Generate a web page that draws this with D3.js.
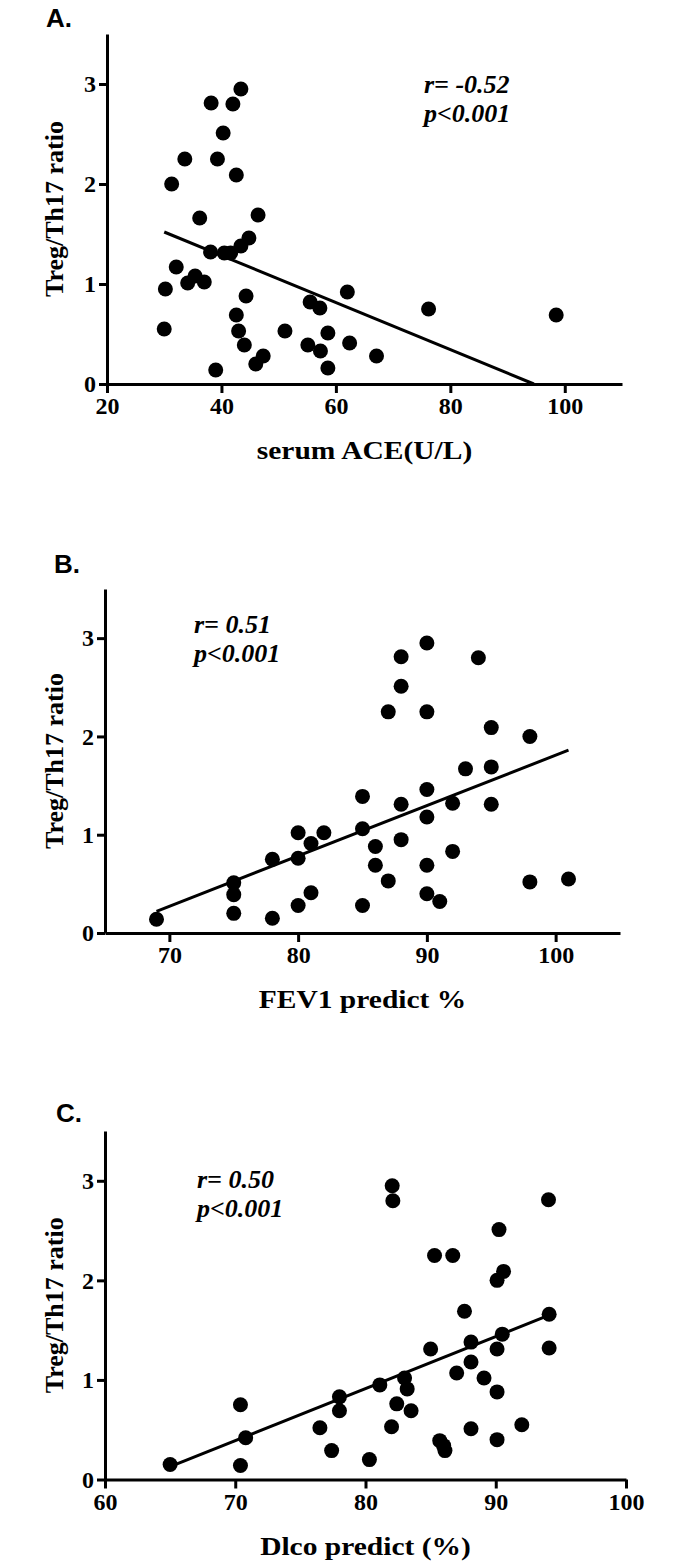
<!DOCTYPE html>
<html>
<head>
<meta charset="utf-8">
<script src="https://cdn.jsdelivr.net/npm/d3@7"></script>
<style>
  html, body { margin: 0; padding: 0; background: #fff; }
  svg { display: block; }
</style>
</head>
<body>
<svg id="chart" width="693" height="1566"></svg>
<script>
// ---------- DATA ----------
// Panel A: serum ACE (U/L) vs Treg/Th17 ratio
const aceX = [43.4, 38.2, 42.0, 40.3, 33.6, 39.3, 42.6, 31.3, 36.2, 46.4, 44.8, 43.4, 38.1, 40.5, 41.6, 32.1,
              30.2, 30.0, 34.1, 35.4, 37.0, 39.0, 44.3, 42.6, 43.0, 44.0, 46.0, 47.3, 51.1, 55.5, 57.2, 55.1,
              57.3, 58.6, 58.6, 62.0, 62.4, 67.1, 76.2, 98.5];
const aceY = [2.95, 2.81, 2.80, 2.51, 2.25, 2.25, 2.09, 2.00, 1.66, 1.69, 1.46, 1.38, 1.32, 1.31, 1.31, 1.17,
              0.95, 0.55, 1.01, 1.08, 1.02, 0.14, 0.88, 0.69, 0.53, 0.39, 0.20, 0.28, 0.53, 0.82, 0.76, 0.39,
              0.33, 0.51, 0.16, 0.92, 0.41, 0.28, 0.75, 0.69];
const aceFit = [[30, 1.52], [94.6, 0]];

// Panel B: FEV1 predict % vs Treg/Th17 ratio
const fevX = [69, 75, 75, 75, 78, 78, 80, 80, 80, 81, 81, 82, 85, 85, 85, 86, 86, 87, 88, 88,
              90, 90, 90, 90, 91, 92, 92, 93, 95, 95, 98, 101, 90, 88, 94, 88, 87, 90, 95, 98];
const fevY = [0.14, 0.51, 0.39, 0.20, 0.75, 0.15, 1.02, 0.76, 0.28, 0.91, 0.41, 1.02, 1.39, 1.06, 0.28, 0.88, 0.69, 0.53, 1.31, 0.95,
              1.46, 1.18, 0.69, 0.40, 0.32, 1.32, 0.83, 1.67, 1.69, 1.31, 0.52, 0.55, 2.95, 2.81, 2.80, 2.51, 2.25, 2.25, 2.09, 2.00];
const fevFit = [[69, 0.22], [101, 1.86]];

// Panel C: Dlco predict (%) vs Treg/Th17 ratio
const dlcoX = [65.0, 70.4, 70.8, 70.4, 76.5, 77.4, 78.0, 78.0, 80.3, 81.1, 82.0, 82.4, 83.0, 83.2, 83.5, 85.0,
               85.7, 86.0, 86.1, 87.0, 87.6, 88.1, 88.1, 88.1, 89.1, 90.1, 90.1, 90.1, 90.5, 92.0, 94.1, 94.1,
               82.05, 82.1, 94.05, 90.25, 85.3, 86.7, 90.6, 90.1];
const dlcoY = [0.15, 0.75, 0.42, 0.14, 0.52, 0.29, 0.83, 0.69, 0.20, 0.95, 0.53, 0.76, 1.02, 0.91, 0.69, 1.31,
               0.39, 0.34, 0.29, 1.07, 1.69, 1.38, 1.18, 0.51, 1.02, 1.31, 0.88, 0.40, 1.46, 0.55, 1.66, 1.32,
               2.95, 2.80, 2.81, 2.51, 2.25, 2.25, 2.09, 2.00];
const dlcoFit = [[65, 0.13], [94.1, 1.65]];

const yTicks = [0, 1, 2, 3];
const aceTicks = [20, 40, 60, 80, 100];
const fevTicks = [70, 80, 90, 100];
const dlcoTicks = [60, 70, 80, 90, 100];

const yTitle = "Treg/Th17 ratio";

// ---------- DRAW ----------
const svg = d3.select("#chart");
const serif = "'Liberation Serif', 'Times New Roman', serif";
const sans = "'Liberation Sans', Arial, sans-serif";

function panel(cfg) {
  const x = d3.scaleLinear().domain(cfg.xDomain).range(cfg.xRange);
  const y = d3.scaleLinear().domain([0, 3.5]).range(cfg.yRange);
  const g = svg.append("g");

  // panel letter
  g.append("text").attr("x", cfg.letterPos[0]).attr("y", cfg.letterPos[1])
    .style("font-family", sans).style("font-weight", "bold").style("font-size", "26px")
    .text(cfg.letter);

  // axes
  const yAxis = d3.axisLeft(y).tickValues(yTicks).tickSize(8).tickSizeOuter(0).tickPadding(3)
    .tickFormat(d3.format("d"));
  const xAxis = d3.axisBottom(x).tickValues(cfg.xTicks).tickSize(9).tickSizeOuter(0).tickPadding(4)
    .tickFormat(d3.format("d"));

  const ya = g.append("g").attr("transform", `translate(${cfg.xRange[0]},0)`).call(yAxis);
  const xa = g.append("g").attr("transform", `translate(0,${cfg.yRange[0]})`).call(xAxis);
  [ya, xa].forEach(a => {
    a.attr("font-family", null).attr("font-size", null);
    a.select(".domain").attr("stroke", "#000").attr("stroke-width", 3);
    a.selectAll(".tick line").attr("stroke", "#000").attr("stroke-width", 3);
    a.selectAll(".tick text").attr("fill", "#000")
      .style("font-family", serif).style("font-weight", "bold").style("font-size", "24px");
  });

  // y title
  const yc = (cfg.yRange[0] + cfg.yRange[1]) / 2;
  g.append("text").attr("transform", `translate(63,${yc}) rotate(-90)`)
    .attr("text-anchor", "middle")
    .style("font-family", serif).style("font-weight", "bold").style("font-size", "26px")
    .text(yTitle);

  // x title (reference is horizontally stretched)
  const xc = (cfg.xRange[0] + cfg.xRange[1]) / 2;
  g.append("text").attr("transform", `translate(${xc},${cfg.yRange[0] + 75}) scale(1.18,1)`)
    .attr("text-anchor", "middle")
    .style("font-family", serif).style("font-weight", "bold").style("font-size", "25px")
    .text(cfg.xTitle);

  // regression line
  g.append("path").datum(cfg.fit)
    .attr("d", d3.line().x(d => x(d[0])).y(d => y(d[1])))
    .attr("stroke", "#000").attr("stroke-width", 3).attr("fill", "none");

  // points
  g.append("g").selectAll("circle").data(cfg.xs.map((v, i) => [v, cfg.ys[i]]))
    .join("circle")
    .attr("cx", d => x(d[0])).attr("cy", d => y(d[1])).attr("r", 7.5).attr("fill", "#000");

  // annotation
  const ann = g.append("text")
    .style("font-family", serif).style("font-weight", "bold")
    .style("font-style", "italic").style("font-size", "26px");
  ann.append("tspan").attr("x", cfg.annPos[0]).attr("y", cfg.annPos[1]).text(cfg.ann[0]);
  ann.append("tspan").attr("x", cfg.annPos[0]).attr("y", cfg.annPos[1] + 29).text(cfg.ann[1]);
}

panel({
  letter: "A.", letterPos: [46, 27],
  xDomain: [20, 110], xRange: [107, 622], yRange: [384, 34],
  xTicks: aceTicks, xTitle: "serum ACE(U/L)",
  xs: aceX, ys: aceY, fit: aceFit,
  ann: ["r= -0.52", "p<0.001"], annPos: [424, 93]
});

panel({
  letter: "B.", letterPos: [54, 573],
  xDomain: [65, 105], xRange: [105, 620], yRange: [933, 589],
  xTicks: fevTicks, xTitle: "FEV1 predict %",
  xs: fevX, ys: fevY, fit: fevFit,
  ann: ["r= 0.51", "p<0.001"], annPos: [194, 633]
});

panel({
  letter: "C.", letterPos: [56, 1122],
  xDomain: [60, 100], xRange: [105, 626], yRange: [1479.5, 1131],
  xTicks: dlcoTicks, xTitle: "Dlco predict (%)",
  xs: dlcoX, ys: dlcoY, fit: dlcoFit,
  ann: ["r= 0.50", "p<0.001"], annPos: [197, 1188]
});
</script>
</body>
</html>
